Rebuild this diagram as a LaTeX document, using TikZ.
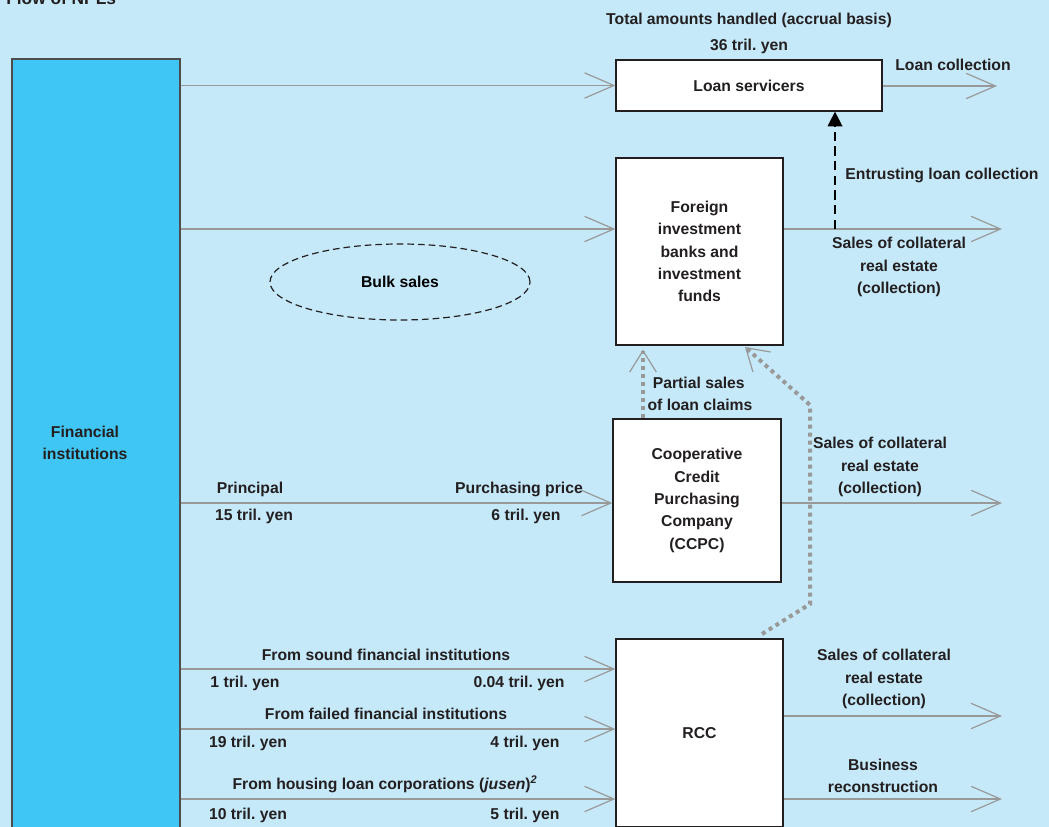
\documentclass[tikz,border=0pt]{standalone}
\usepackage{fontspec}
\setmainfont{Liberation Sans}
\usetikzlibrary{arrows.meta, positioning, calc, shapes.geometric}
\definecolor{cBack}{RGB}{197,233,249}
\definecolor{cInst}{RGB}{64,198,244}
\definecolor{cLine}{RGB}{153,153,153}
\definecolor{cText}{RGB}{35,31,32}
\frenchspacing
\tikzset{
	agency/.style   ={rectangle, draw=cText, line width=0.9pt, fill=white, align=center, text=cText, inner sep=2pt},
	lbl/.style      ={align=center, text=cText, inner sep=0pt},
	flowarrow/.style={-{Straight Barb[length=22pt, width=19pt, line width=0.9pt]}, draw=cLine, line width=1.1pt},
	% dotted claim transfers and dashed entrusting
	claimarrow/.style={-{Straight Barb[length=16pt, width=20pt, line width=0.9pt]}, draw=cLine, line width=3pt, dash pattern=on 3pt off 3pt},
	trustarrow/.style={-{Triangle[length=11pt, width=11pt]}, draw=black, line width=1pt, dash pattern=on 7pt off 4pt},
}

\begin{document}
\begin{tikzpicture}[x=0.75pt, y=-0.75pt, node distance=4pt,
	every node/.style={font=\bfseries\fontsize{11.8}{16.8}\selectfont}]
	\clip (0,0) rectangle (1049,827);
	\fill[cBack] (0,0) rectangle (1049,827);
	\node[lbl, anchor=base west, font=\bfseries\fontsize{13}{15}\selectfont] (title) at (6,5) {Flow of NPLs};

	% sellers
	\node[rectangle, draw=cText!80, line width=1.2pt, fill=cInst, minimum width=126pt, minimum height=600pt, anchor=north west] (inst) at (11,58) {};
	\node[lbl] (instlbl) at (85,443) {Financial\\ institutions};

	% buyers
	\node[agency, minimum width=199.5pt, minimum height=38.25pt] (ls) at (749,85.5) {Loan servicers};
	\node[lbl, above=4pt of ls] (tot) {36 tril. yen};
	\node[lbl, above=8pt of tot] (totlbl) {Total amounts handled (accrual basis)};
	\node[agency, minimum width=125.25pt, minimum height=140.25pt] (fib) at (699.5,251.5) {Foreign\\ investment\\ banks and\\ investment\\ funds};
	\node[agency, minimum width=126pt, minimum height=122.25pt] (ccpc) at (697,500.5) {Cooperative\\ Credit\\ Purchasing\\ Company\\ (CCPC)};
	\node[agency, minimum width=125.25pt, minimum height=141pt] (rcc) at (699.5,733) {RCC};

	% sales to buyers
	\draw[flowarrow] (inst.east |- ls.west) -- (ls.west);
	\coordinate (f1) at (fib.west |- 0,229);
	\draw[flowarrow] (inst.east |- f1) -- (f1);
	\node[ellipse, draw=cText, line width=0.9pt, dash pattern=on 5pt off 3pt, minimum width=195pt, minimum height=57pt] (bulk) at (400,282) {Bulk sales};
	\coordinate (c1) at (ccpc.west |- 0,503);
	\draw[flowarrow] (inst.east |- c1) -- (c1);
	\node[lbl] at (250,489) {Principal};
	\node[lbl] at (254,516) {15 tril. yen};
	\node[lbl] at (519,489) {Purchasing price};
	\node[lbl] at (526,516) {6 tril. yen};
	\coordinate (r1) at (rcc.west |- 0,669);
	\coordinate (r2) at (rcc.west |- 0,729);
	\coordinate (r3) at (rcc.west |- 0,799);
	\draw[flowarrow] (inst.east |- r1) -- (r1);
	\draw[flowarrow] (inst.east |- r2) -- (r2);
	\draw[flowarrow] (inst.east |- r3) -- (r3);
	\node[lbl] at (386,655) {From sound financial institutions};
	\node[lbl] at (245,683) {1 tril. yen};
	\node[lbl] at (519,683) {0.04 tril. yen};
	\node[lbl] at (386,714) {From failed financial institutions};
	\node[lbl] at (248,743) {19 tril. yen};
	\node[lbl] at (525,743) {4 tril. yen};
	\node[lbl] at (385,784) {From housing loan corporations (\textit{jusen})\textsuperscript{\textit{2}}};
	\node[lbl] at (248,815) {10 tril. yen};
	\node[lbl] at (525,815) {5 tril. yen};

	% collections
	\coordinate (o1) at (997,86);
	\coordinate (o2) at (1002,229);
	\coordinate (o3) at (1002,503);
	\coordinate (o4) at (1002,716);
	\coordinate (o5) at (1002,799);
	\draw[flowarrow] (ls.east |- o1) -- (o1);
	\draw[flowarrow] (fib.east |- o2) -- (o2);
	\draw[flowarrow] (ccpc.east |- o3) -- (o3);
	\draw[flowarrow] (rcc.east |- o4) -- (o4);
	\draw[flowarrow] (rcc.east |- o5) -- (o5);
	\node[lbl] at (953,65) {Loan collection};
	\node[lbl] at (899,267) {Sales of collateral\\ real estate\\ (collection)};
	\node[lbl] at (880,467) {Sales of collateral\\ real estate\\ (collection)};
	\node[lbl] at (884,679) {Sales of collateral\\ real estate\\ (collection)};
	\node[lbl] at (883,776) {Business\\ reconstruction};

	% entrusting
	\coordinate (t1) at (835,229);
	\draw[trustarrow] (t1) -- (t1 |- ls.south);
	\node[lbl] at (942,175) {Entrusting loan collection};

	% partial sales
	\draw[claimarrow] (ccpc.north -| 643,0) -- ($(fib.south -| 643,0)+(0,4)$);
	\node[lbl, align=left] at (700,394) {\hspace*{4pt}Partial sales\\ of loan claims};
	\coordinate (p1) at (762,634);
	\coordinate (p2) at (745,347);
	\draw[claimarrow] (p1) -- (810,604) -- (810,405) -- (p2);
\end{tikzpicture}
\end{document}
